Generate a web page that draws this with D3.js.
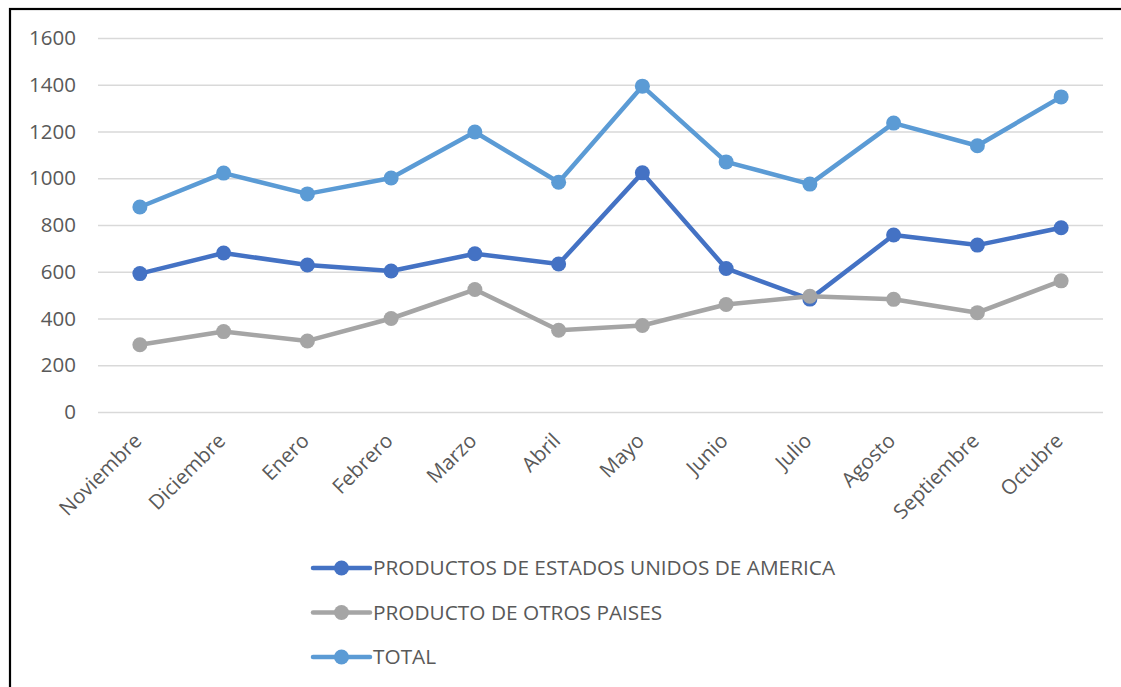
<!DOCTYPE html>
<html>
<head>
<meta charset="utf-8">
<script src="https://cdn.jsdelivr.net/npm/d3@7"></script>
<style>
  body { margin: 0; background: #fff; }
  svg text { font-family: "Open Sans", sans-serif; fill: #595959; }
</style>
</head>
<body>
<div id="chart"></div>
<script>
// Data
var months = ["Noviembre", "Diciembre", "Enero", "Febrero", "Marzo", "Abril",
              "Mayo", "Junio", "Julio", "Agosto", "Septiembre", "Octubre"];
var usaValues = [592, 680, 629, 603, 677, 633, 1023, 614, 483, 757, 714, 788];
var otherValues = [288, 344, 304, 400, 524, 350, 370, 460, 495, 482, 425, 561];
var totalValues = [877, 1022, 933, 1001, 1198, 983, 1394, 1070, 975, 1236, 1139, 1348];
var yTicks = [0, 200, 400, 600, 800, 1000, 1200, 1400, 1600];
var seriesNames = ["PRODUCTOS DE ESTADOS UNIDOS DE AMERICA", "PRODUCTO DE OTROS PAISES", "TOTAL"];

var width = 1121, height = 687;
var plot = {left: 98, right: 1103, top: 38, bottom: 412};

var series = [
  {name: seriesNames[0], values: usaValues, color: "#4472C4"},
  {name: seriesNames[1], values: otherValues, color: "#A5A5A5"},
  {name: seriesNames[2], values: totalValues, color: "#5B9BD5"}
];

var svg = d3.select("#chart").append("svg")
    .attr("width", width)
    .attr("height", height);

// outer frame
svg.append("rect")
    .attr("x", 10).attr("y", 9)
    .attr("width", width + 20).attr("height", height + 20)
    .attr("fill", "#fff")
    .attr("stroke", "#000")
    .attr("stroke-width", 2.2);

var x = d3.scaleBand()
    .domain(months)
    .range([plot.left, plot.right]);

var y = d3.scaleLinear()
    .domain([0, 1600])
    .range([plot.bottom, plot.top]);

// gridlines + y labels
var yAxis = svg.append("g")
    .attr("transform", "translate(" + plot.left + ",0)")
    .call(d3.axisLeft(y).tickValues(yTicks).tickFormat(d3.format("d"))
        .tickSize(-(plot.right - plot.left)).tickPadding(22));
yAxis.select(".domain").remove();
yAxis.selectAll(".tick line").attr("stroke", "#D9D9D9").attr("stroke-width", 1.5);
yAxis.selectAll(".tick text")
    .style("font-size", "20.5px")
    .attr("fill", "#595959");

// x labels
var xAxis = svg.append("g")
    .attr("transform", "translate(0," + plot.bottom + ")")
    .call(d3.axisBottom(x).tickSize(0));
xAxis.select(".domain").remove();
xAxis.selectAll(".tick text")
    .style("font-size", "20.5px")
    .attr("fill", "#595959")
    .attr("text-anchor", "end")
    .attr("dy", null)
    .attr("y", null)
    .attr("transform", "translate(3,30) rotate(-45)");

var line = d3.line()
    .x(function(d, i) { return x(months[i]) + x.bandwidth() / 2; })
    .y(function(d) { return y(d); });

var g = svg.selectAll(".serie")
    .data(series)
    .enter().append("g")
    .attr("class", "serie");

g.append("path")
    .attr("d", function(d) { return line(d.values); })
    .attr("fill", "none")
    .attr("stroke", function(d) { return d.color; })
    .attr("stroke-width", 4.5)
    .attr("stroke-linejoin", "round");

g.selectAll("circle")
    .data(function(d) { return d.values.map(function(v) { return {v: v, color: d.color}; }); })
    .enter().append("circle")
    .attr("cx", function(d, i) { return x(months[i]) + x.bandwidth() / 2; })
    .attr("cy", function(d) { return y(d.v); })
    .attr("r", 7.5)
    .attr("fill", function(d) { return d.color; });

// legend
var legend = svg.selectAll(".legend")
    .data(series)
    .enter().append("g")
    .attr("class", "legend")
    .attr("transform", function(d, i) { return "translate(313," + (568 + i * 44.5) + ")"; });

legend.append("line")
    .attr("x1", 0).attr("x2", 57)
    .attr("stroke", function(d) { return d.color; })
    .attr("stroke-width", 4.5)
    .attr("stroke-linecap", "round");

legend.append("circle")
    .attr("cx", 28.5).attr("r", 7.5)
    .attr("fill", function(d) { return d.color; });

legend.append("text")
    .attr("x", 60)
    .attr("dy", "0.35em")
    .style("font-size", "20.8px")
    .text(function(d) { return d.name; });
</script>
</body>
</html>
